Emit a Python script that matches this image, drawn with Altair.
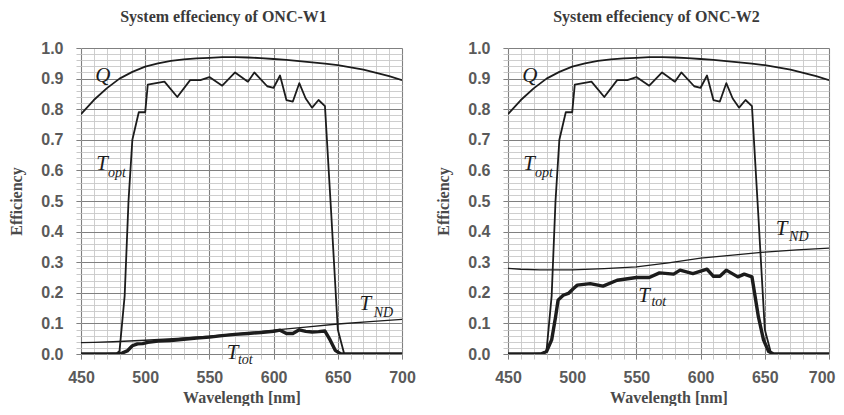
import altair as alt
import pandas as pd

# ---------------- data ----------------
wl_q = [450, 460, 470, 480, 490, 500, 510, 520, 530, 540, 550, 560, 570, 580,
        590, 600, 610, 620, 630, 640, 650, 660, 670, 680, 690, 700]
q_vals = [0.784, 0.83, 0.868, 0.90, 0.922, 0.939, 0.95, 0.958, 0.963, 0.966,
          0.968, 0.97, 0.97, 0.969, 0.967, 0.964, 0.961, 0.957, 0.953, 0.949,
          0.944, 0.937, 0.929, 0.919, 0.908, 0.895]

wl_topt = [450, 470, 478, 480, 484, 487, 490, 495, 500, 502, 515, 525, 535, 543,
           550, 560, 570, 580, 585, 595, 600, 605, 610, 615, 620, 625, 630, 635,
           640, 645, 650, 655, 700]
topt_vals = [0.0, 0.0, 0.002, 0.01, 0.19, 0.5, 0.70, 0.79, 0.79, 0.88, 0.89, 0.84,
             0.895, 0.895, 0.905, 0.877, 0.92, 0.89, 0.92, 0.875, 0.87, 0.91, 0.83,
             0.825, 0.885, 0.835, 0.805, 0.83, 0.81, 0.45, 0.08, 0.0, 0.0]

wl_nd = [450, 460, 475, 500, 525, 550, 575, 600, 625, 650, 675, 700]
nd1_vals = [0.037, 0.038, 0.040, 0.045, 0.051, 0.058, 0.067, 0.078, 0.088, 0.098, 0.106, 0.113]
nd2_vals = [0.280, 0.277, 0.275, 0.275, 0.279, 0.285, 0.298, 0.313, 0.323, 0.333, 0.340, 0.346]

wl_tot1 = [450, 470, 478, 482, 486, 490, 494, 498, 502, 510, 520, 530, 540, 550,
           560, 570, 580, 590, 600, 605, 610, 615, 620, 625, 630, 635, 640, 644,
           648, 652, 656, 700]
tot1_vals = [0.0, 0.0, 0.001, 0.003, 0.01, 0.027, 0.033, 0.034, 0.038, 0.042,
             0.044, 0.048, 0.052, 0.055, 0.06, 0.064, 0.067, 0.07, 0.074, 0.078,
             0.067, 0.067, 0.079, 0.074, 0.072, 0.073, 0.075, 0.046, 0.012, 0.001,
             0.0, 0.0]

wl_tot2 = [450, 470, 476, 480, 484, 487, 489, 493, 497, 501, 504, 514, 524, 535,
           550, 560, 568, 579, 584, 594, 605, 610, 615, 620, 629, 634, 640, 645,
           649, 653, 657, 700]
tot2_vals = [0.0, 0.0, 0.001, 0.008, 0.046, 0.12, 0.176, 0.192, 0.198, 0.214,
             0.225, 0.23, 0.222, 0.241, 0.25, 0.25, 0.265, 0.261, 0.274, 0.263,
             0.277, 0.254, 0.254, 0.274, 0.252, 0.261, 0.252, 0.122, 0.046, 0.008,
             0.0, 0.0]

titles = ["System effeciency of ONC-W1", "System effeciency of ONC-W2"]

# curve labels: text, wavelength, value, kind (main letter / subscript)
labels1_text = ["Q", "T", "opt", "T", "ND", "T", "tot"]
labels1_x = [467, 466.5, 478, 671.5, 685.5, 568, 578]
labels1_y = [0.908, 0.621, 0.59, 0.163, 0.135, 0.002, -0.02]
labels2_text = ["Q", "T", "opt", "T", "ND", "T", "tot"]
labels2_x = [467, 466.5, 478, 663, 676.5, 556, 567.5]
labels2_y = [0.908, 0.621, 0.59, 0.408, 0.383, 0.19, 0.171]
labels_kind = ["main", "main", "sub", "main", "sub", "main", "sub"]

major_x = [450, 500, 550, 600, 650, 700]
minor_x = list(range(450, 701, 10))
major_y = [round(i * 0.1, 1) for i in range(11)]
minor_y = [round(i * 0.02, 2) for i in range(51)]

# ---------------- styling ----------------
SERIF = "Liberation Serif"
SANS = "Liberation Sans"
INK = "#1c1c1c"
W, H = 321, 306

x_scale = alt.Scale(domain=[450, 700], nice=False, zero=False)
y_scale = alt.Scale(domain=[0, 1], nice=False)


def df(wl, vals):
    return pd.DataFrame({"wl": wl, "v": vals})


def panel(title, title_dx, nd_vals, tot_wl, tot_vals, lab_text, lab_x, lab_y,
          tuck_last_label):
    base = df(wl_q, q_vals)
    minor = alt.Chart(base).mark_line(opacity=0).encode(
        x=alt.X("wl:Q", scale=x_scale, axis=alt.Axis(
            values=minor_x, grid=True, gridColor="#c8c8c8", gridWidth=0.9,
            labels=False, ticks=True, tickColor="#c8c8c8", tickSize=5,
            domain=False, title=None, orient="bottom")),
        y=alt.Y("v:Q", scale=y_scale, axis=alt.Axis(
            values=minor_y, grid=True, gridColor="#c8c8c8", gridWidth=0.9,
            labels=False, ticks=True, tickColor="#c8c8c8", tickSize=5,
            domain=False, title=None, orient="left")),
    )
    x_label_kw = {}
    if tuck_last_label:
        x_label_kw = dict(
            labelAlign=alt.ConditionalAxisLabelAlign(
                condition={"test": "datum.value == 700", "value": "right"},
                value="center"),
            labelOffset=alt.ConditionalAxisNumber(
                condition={"test": "datum.value == 700", "value": 6},
                value=0),
        )
    major = alt.Chart(base).mark_line(opacity=0).encode(
        x=alt.X("wl:Q", scale=x_scale, axis=alt.Axis(
            values=major_x, grid=True, gridColor="#808080", gridWidth=1.1,
            ticks=True, tickColor="#808080", tickSize=5, domain=False,
            labelFont=SANS, labelFontSize=16, labelFontWeight="bold",
            labelColor="#5a5a5a", labelPadding=10, labelFlush=False,
            title="Wavelength [nm]", titleFont=SERIF, titleFontSize=16,
            titleFontWeight="bold", titleColor="#4a4a4a", titlePadding=4,
            orient="bottom", **x_label_kw)),
        y=alt.Y("v:Q", scale=y_scale, axis=alt.Axis(
            values=major_y, format=".1f", grid=True, gridColor="#808080",
            gridWidth=1.1, ticks=True, tickColor="#808080", tickSize=5,
            domain=False, labelFont=SANS, labelFontSize=16,
            labelFontWeight="bold", labelColor="#5a5a5a", labelPadding=13,
            title="Efficiency", titleFont=SERIF, titleFontSize=16,
            titleFontWeight="bold", titleColor="#4a4a4a", titlePadding=16,
            orient="left")),
    )

    def curve(data, width):
        return alt.Chart(data).mark_line(color=INK, strokeWidth=width,
                                         clip=True, strokeJoin="round").encode(
            x=alt.X("wl:Q", scale=x_scale, axis=None),
            y=alt.Y("v:Q", scale=y_scale, axis=None),
        )

    q_line = curve(df(wl_q, q_vals), 1.8)
    topt_line = curve(df(wl_topt, topt_vals), 1.8)
    nd_line = curve(df(wl_nd, nd_vals), 1.3)
    tot_line = curve(df(tot_wl, tot_vals), 3.4)

    lab = pd.DataFrame({"t": lab_text, "x": lab_x, "y": lab_y, "k": labels_kind})
    main_txt = alt.Chart(lab).transform_filter(alt.datum.k == "main").mark_text(
        font=SERIF, fontStyle="italic", fontSize=21, color=INK,
        align="center", baseline="middle").encode(
        x=alt.X("x:Q", scale=x_scale, axis=None),
        y=alt.Y("y:Q", scale=y_scale, axis=None),
        text="t:N")
    sub_txt = alt.Chart(lab).transform_filter(alt.datum.k == "sub").mark_text(
        font=SERIF, fontStyle="italic", fontSize=14, color=INK,
        align="center", baseline="middle").encode(
        x=alt.X("x:Q", scale=x_scale, axis=None),
        y=alt.Y("y:Q", scale=y_scale, axis=None),
        text="t:N")

    return alt.layer(minor, major, q_line, topt_line, nd_line, tot_line,
                     main_txt, sub_txt).resolve_axis(
        x="independent", y="independent").properties(
        width=W, height=H,
        title=alt.TitleParams(title, font=SERIF, fontSize=16,
                              fontWeight="bold", color="#3a3a3a", dx=title_dx,
                              offset=15.5))


left = panel(titles[0], -18, nd1_vals, wl_tot1, tot1_vals,
             labels1_text, labels1_x, labels1_y, False)
right = panel(titles[1], -12, nd2_vals, wl_tot2, tot2_vals,
              labels2_text, labels2_x, labels2_y, True)

chart = alt.hconcat(left, right, spacing=106, bounds="flush").properties(
    padding={"left": 0, "top": 0, "right": 0, "bottom": 0}
).configure_view(stroke=None).configure(background="white")

chart.save("out.html", embed_options={"renderer": "svg", "actions": False})
